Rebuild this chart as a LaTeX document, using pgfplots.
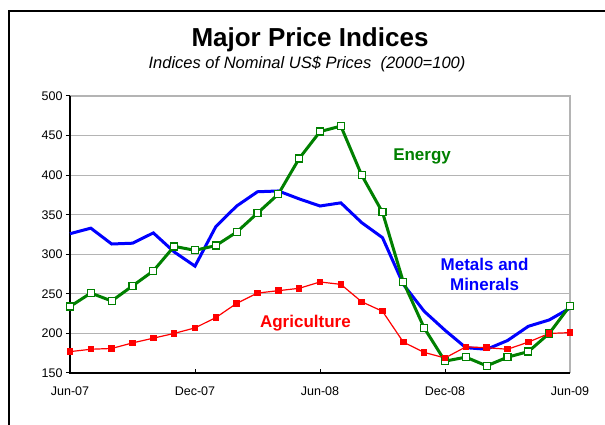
\documentclass[border=0pt]{standalone}
\usepackage{fontspec}
\setmainfont{Liberation Sans}
\usepackage{pgfplots}
\pgfplotsset{compat=1.18}
\definecolor{egreen}{RGB}{0,128,0}
\definecolor{gridgray}{RGB}{180,180,180}
\begin{document}
\begin{tikzpicture}[x=1pt,y=1pt]
\path[use as bounding box] (0,0) rectangle (605,425);
\draw[line width=1.5pt] (9,0) -- (9,414) -- (605,414);
\node[font=\fontsize{26}{30}\selectfont\bfseries] at (310,385) {Major Price Indices};
\node[font=\fontsize{16.5}{19}\selectfont\itshape] at (307,361) {Indices of Nominal US\$ Prices\ \ (2000=100)};
\begin{axis}[at={(70pt,52pt)}, anchor=south west, scale only axis,
  width=500pt, height=277pt,
  xmin=0, xmax=24, ymin=150, ymax=500,
  xtick={0,6,12,18,24}, xticklabels={Jun-07,Dec-07,Jun-08,Dec-08,Jun-09},
  ytick={150,200,...,500},
  ymajorgrids, grid style={gridgray, line width=1pt},
  axis line style={draw=none},
  tick pos=left,
  tick align=outside, major tick length=4pt,
  tick style={black, line width=1pt},
  xtick style={yshift=4pt},
  ticklabel style={font=\fontsize{12.5}{14}\selectfont},
  xticklabel style={yshift=-6pt},
  /pgf/number format/assume math mode=true,
  clip=false]
\draw[gridgray, line width=1.5pt] (axis cs:0,500) -- (axis cs:24,500) -- (axis cs:24,150);
\draw[black, line width=1.5pt] (axis cs:0,500) -- (axis cs:0,150) -- (axis cs:24,150);
\addplot[blue, line width=3pt, no marks] coordinates {
(0,326)(1,333)(2,313)(3,314)(4,327)(5,303)(6,285)(7,335)(8,361)(9,379)(10,380)(11,370)(12,361)(13,365)(14,340)(15,321)(16,262)(17,228)(18,204)(19,182)(20,180)(21,191)(22,209)(23,217)(24,232)};
\addplot[egreen, line width=3pt, mark=square*, mark size=3.5pt, mark options={fill=white, line width=1.3pt}] coordinates {
(0,234)(1,251)(2,241)(3,260)(4,279)(5,310)(6,305)(7,311)(8,328)(9,352)(10,376)(11,421)(12,455)(13,462)(14,400)(15,353)(16,265)(17,207)(18,165)(19,170)(20,159)(21,170)(22,177)(23,200)(24,235)};
\addplot[red, line width=1.2pt, mark=square*, mark size=2.6pt, mark options={fill=red}] coordinates {
(0,177)(1,180)(2,181)(3,188)(4,194)(5,200)(6,207)(7,220)(8,238)(9,251)(10,254)(11,257)(12,265)(13,262)(14,240)(15,228)(16,189)(17,176)(18,169)(19,183)(20,182)(21,180)(22,189)(23,200)(24,201)};
\node[egreen, font=\fontsize{17}{20}\selectfont\bfseries] at (axis cs:16.9,423) {Energy};
\node[blue, font=\fontsize{17}{20}\selectfont\bfseries, align=center] at (axis cs:19.9,275) {Metals and\\Minerals};
\node[red, font=\fontsize{17}{20}\selectfont\bfseries] at (axis cs:11.3,213) {Agriculture};
\end{axis}
\end{tikzpicture}
\end{document}
